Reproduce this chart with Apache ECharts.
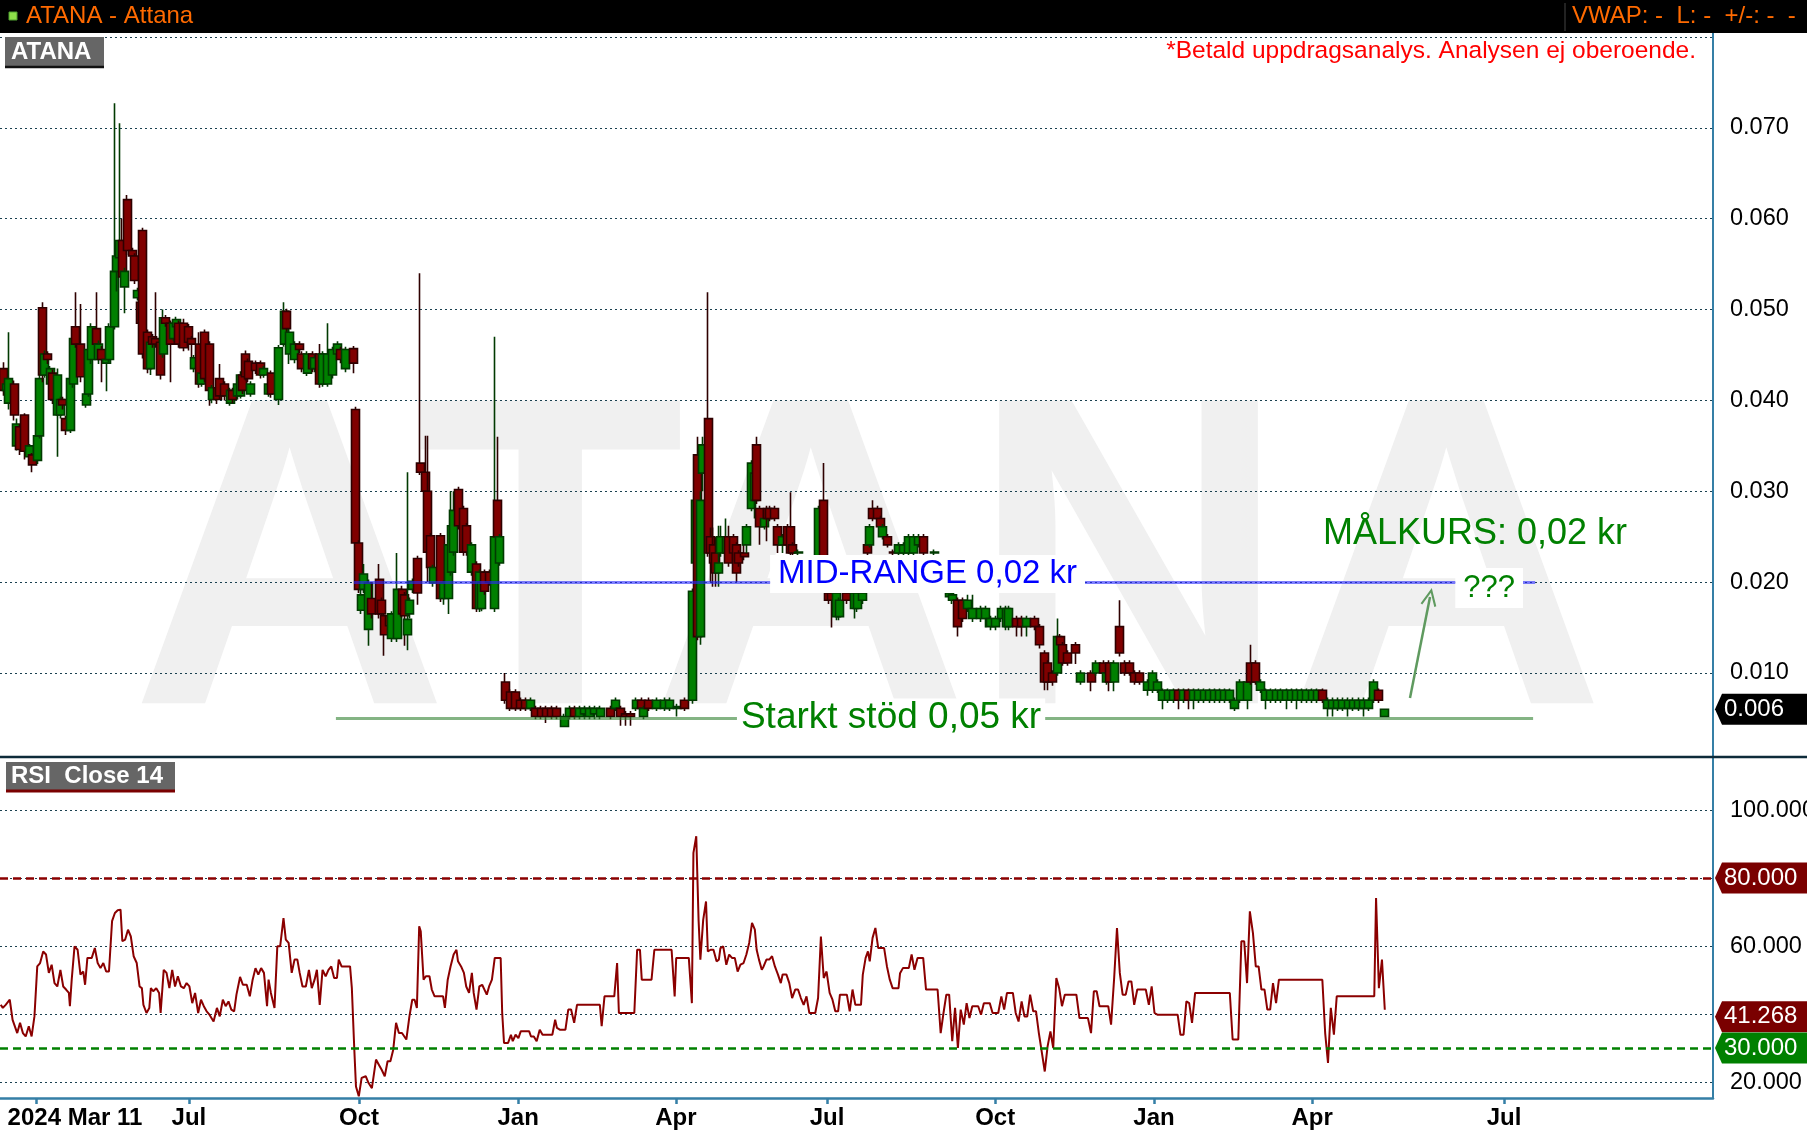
<!DOCTYPE html>
<html><head><meta charset="utf-8">
<script src="https://cdn.jsdelivr.net/npm/echarts@6/dist/echarts.min.js"></script>
<style>html,body{margin:0;padding:0;background:#fff;}#c{width:1807px;height:1137px;}</style>
</head><body><div id="c"></div>
<script>
const FONT = '"Liberation Sans", Arial, Helvetica, sans-serif';

// trading-day index, open, close, low, high
const candles = [
[0,.0435,.0411,.0405,.0442],[1,.0411,.0418,.0405,.0422],[2,.0397,.0424,.0390,.0475],[4,.0418,.0384,.0378,.0422],
[5,.0350,.0374,.0345,.0380],[6,.0371,.0346,.0340,.0374],[8,.0384,.0344,.0335,.0386],[10,.0338,.0350,.0332,.0352],
[11,.0340,.0329,.0321,.0342],[13,.0334,.0361,.0330,.0364],[14,.0361,.0424,.0358,.0430],[15,.0502,.0428,.0420,.0508],
[16,.0428,.0451,.0425,.0455],[17,.0451,.0445,.0440,.0454],[18,.0418,.0435,.0414,.0438],[19,.0430,.0401,.0396,.0434],
[21,.0384,.0428,.0338,.0435],[22,.0384,.0401,.0380,.0404],[23,.0401,.0395,.0390,.0404],[24,.0380,.0367,.0362,.0383],
[26,.0367,.0424,.0364,.0428],[27,.0418,.0468,.0414,.0472],[28,.0481,.0462,.0458,.0519],[30,.0462,.0426,.0420,.0506],
[32,.0395,.0407,.0392,.0410],[33,.0407,.0456,.0404,.0475],[34,.0445,.0481,.0440,.0485],[36,.0479,.0462,.0458,.0519],
[37,.0445,.0462,.0440,.0466],[38,.0456,.0445,.0420,.0460],[40,.0441,.0445,.0410,.0448],[41,.0445,.0481,.0442,.0485],
[43,.0481,.0542,.0478,.0727],[44,.0542,.0559,.0520,.0565],[45,.0557,.0576,.0555,.0705],[46,.0576,.0536,.0532,.0600],
[47,.0525,.0542,.0496,.0546],[48,.0621,.0565,.0560,.0626],[50,.0565,.0559,.0555,.0568],[51,.0559,.0532,.0528,.0562],
[52,.0513,.0521,.0510,.0524],[53,.0508,.0485,.0480,.0511],[54,.0587,.0451,.0446,.0590],[56,.0475,.0435,.0430,.0478],
[57,.0435,.0464,.0428,.0467],[58,.0470,.0462,.0458,.0473],[59,.0468,.0462,.0458,.0519],[61,.0464,.0428,.0423,.0467],
[62,.0451,.0491,.0447,.0500],[63,.0491,.0485,.0481,.0494],[65,.0485,.0462,.0420,.0488],[66,.0468,.0485,.0465,.0488],
[67,.0481,.0489,.0478,.0492],[68,.0485,.0462,.0458,.0488],[70,.0485,.0458,.0454,.0490],[72,.0481,.0464,.0455,.0484],
[73,.0468,.0462,.0445,.0471],[74,.0435,.0447,.0431,.0450],[76,.0462,.0418,.0414,.0475],[77,.0418,.0430,.0415,.0433],
[78,.0475,.0424,.0420,.0478],[80,.0462,.0411,.0394,.0465],[81,.0401,.0414,.0397,.0417],[83,.0414,.0401,.0396,.0417],
[84,.0424,.0405,.0401,.0440],[86,.0418,.0405,.0400,.0421],[88,.0397,.0411,.0394,.0414],[89,.0411,.0401,.0397,.0414],
[91,.0405,.0418,.0401,.0421],[92,.0405,.0428,.0402,.0432],[93,.0428,.0411,.0407,.0431],[94,.0451,.0426,.0422,.0455],
[95,.0443,.0424,.0420,.0446],[96,.0407,.0418,.0404,.0421],[98,.0441,.0433,.0429,.0444],[100,.0441,.0428,.0424,.0444],
[101,.0428,.0435,.0425,.0438],[103,.0407,.0418,.0404,.0421],[104,.0430,.0407,.0403,.0433],[107,.0401,.0458,.0395,.0461],
[109,.0462,.0498,.0459,.0508],[110,.0498,.0479,.0475,.0501],[111,.0451,.0475,.0440,.0478],[113,.0445,.0462,.0441,.0465],
[115,.0462,.0456,.0452,.0465],[116,.0451,.0435,.0431,.0454],[118,.0430,.0451,.0427,.0454],[120,.0451,.0435,.0431,.0454],
[121,.0435,.0447,.0431,.0450],[123,.0451,.0418,.0414,.0462],[124,.0418,.0451,.0415,.0454],[126,.0418,.0451,.0415,.0485],
[128,.0428,.0456,.0424,.0459],[130,.0451,.0462,.0448,.0465],[131,.0456,.0445,.0441,.0459],[133,.0435,.0456,.0431,.0459],
[136,.0457,.0441,.0430,.0460],
[137,.0390,.0243,.0240,.0393],[138,.0243,.0192,.0188,.0246],[139,.0169,.0186,.0165,.0200],[140,.0192,.0209,.0188,.0220],
[142,.0148,.0199,.0130,.0203],[143,.0182,.0165,.0160,.0200],[146,.0203,.0165,.0160,.0220],[147,.0180,.0165,.0160,.0183],
[148,.0163,.0142,.0119,.0166],[150,.0163,.0152,.0148,.0166],[151,.0138,.0165,.0134,.0168],[153,.0138,.0192,.0134,.0232],
[155,.0192,.0165,.0161,.0196],[156,.0186,.0163,.0130,.0189],[157,.0142,.0159,.0125,.0321],[158,.0165,.0180,.0160,.0183],
[159,.0192,.0201,.0188,.0204],[161,.0226,.0188,.0175,.0229],[162,.0331,.0321,.0318,.0540],[164,.0321,.0300,.0296,.0361],
[165,.0300,.0233,.0200,.0361],[166,.0251,.0216,.0212,.0254],[167,.0199,.0216,.0195,.0219],[170,.0251,.0182,.0178,.0254],
[171,.0182,.0199,.0175,.0202],[173,.0182,.0241,.0165,.0244],[174,.0211,.0262,.0207,.0300],[175,.0233,.0279,.0229,.0300],
[177,.0302,.0262,.0258,.0305],[179,.0281,.0233,.0229,.0284],[180,.0262,.0233,.0229,.0265],[182,.0211,.0241,.0207,.0244],
[184,.0220,.0171,.0167,.0223],[185,.0171,.0211,.0167,.0214],[186,.0171,.0200,.0168,.0203],[187,.0211,.0190,.0186,.0214],
[189,.0211,.0200,.0196,.0214],[191,.0171,.0250,.0167,.0470],[192,.0290,.0250,.0246,.0360],[193,.0221,.0250,.0218,.0253],
[195,.0090,.0070,.0066,.0100],[197,.0079,.0061,.0058,.0082],[199,.0079,.0061,.0058,.0082],[201,.0070,.0061,.0058,.0073],
[203,.0070,.0061,.0058,.0073],[205,.0061,.0070,.0058,.0073],[207,.0061,.0052,.0049,.0064],[209,.0061,.0052,.0049,.0064],
[211,.0061,.0052,.0045,.0064],[213,.0061,.0052,.0049,.0064],[215,.0061,.0052,.0049,.0064],[218,.0041,.0052,.0041,.0055],
[220,.0052,.0061,.0049,.0064],[222,.0061,.0052,.0049,.0064],[224,.0052,.0061,.0049,.0064],[226,.0055,.0061,.0049,.0064],
[228,.0052,.0061,.0049,.0064],[230,.0055,.0061,.0049,.0064],[232,.0052,.0061,.0049,.0064],[236,.0061,.0052,.0049,.0064],
[238,.0061,.0070,.0058,.0073],[240,.0061,.0052,.0042,.0064],[242,.0055,.0052,.0042,.0058],[244,.0055,.0052,.0042,.0058],
[246,.0061,.0070,.0058,.0073],[248,.0070,.0061,.0058,.0073],[249,.0052,.0061,.0049,.0064],[251,.0070,.0061,.0058,.0073],
[254,.0061,.0070,.0058,.0073],[257,.0061,.0070,.0058,.0073],[259,.0061,.0070,.0058,.0073],[262,.0061,.0063,.0052,.0066],
[265,.0070,.0061,.0058,.0073],
[268,.0070,.0190,.0066,.0193],[269,.0221,.0290,.0200,.0300],[270,.0340,.0140,.0136,.0360],[271,.0140,.0290,.0131,.0300],
[272,.0320,.0351,.0300,.0360],[274,.0380,.0232,.0228,.0519],[275,.0250,.0232,.0200,.0260],[276,.0241,.0221,.0195,.0260],
[277,.0232,.0210,.0195,.0250],[278,.0210,.0221,.0195,.0262],[279,.0232,.0250,.0228,.0262],[281,.0232,.0250,.0228,.0270],
[282,.0250,.0221,.0217,.0262],[284,.0250,.0232,.0228,.0253],[285,.0241,.0210,.0200,.0244],[286,.0232,.0221,.0217,.0235],
[288,.0232,.0228,.0224,.0241],[289,.0241,.0261,.0232,.0264],[291,.0281,.0331,.0278,.0334],[292,.0290,.0320,.0270,.0323],
[293,.0351,.0290,.0286,.0360],[294,.0281,.0261,.0241,.0284],[296,.0261,.0270,.0258,.0273],[297,.0281,.0270,.0245,.0284],
[298,.0281,.0270,.0267,.0284],[300,.0281,.0270,.0267,.0284],[301,.0261,.0241,.0232,.0264],[303,.0241,.0250,.0232,.0253],
[305,.0261,.0241,.0238,.0264],[306,.0261,.0232,.0229,.0299],[307,.0241,.0232,.0229,.0244],[309,.0232,.0233,.0229,.0236],
[311,.0225,.0205,.0200,.0228],[313,.0200,.0220,.0196,.0223],[315,.0215,.0200,.0196,.0218],[317,.0200,.0281,.0196,.0284],
[319,.0290,.0200,.0196,.0331],[321,.0188,.0180,.0176,.0191],[322,.0188,.0180,.0150,.0191],[324,.0162,.0188,.0158,.0191],
[325,.0162,.0180,.0158,.0183],[328,.0188,.0180,.0176,.0191],[331,.0171,.0188,.0160,.0191],[332,.0171,.0188,.0167,.0191],
[334,.0180,.0188,.0176,.0191],[336,.0241,.0232,.0228,.0244],[337,.0241,.0261,.0238,.0264],[338,.0281,.0270,.0267,.0290],
[340,.0281,.0270,.0267,.0284],[341,.0270,.0261,.0258,.0273],[342,.0250,.0261,.0247,.0264],[344,.0250,.0241,.0238,.0253],
[346,.0233,.0232,.0229,.0236],[348,.0232,.0241,.0229,.0244],[350,.0232,.0241,.0229,.0244],[352,.0232,.0250,.0229,.0253],
[354,.0232,.0250,.0229,.0253],[356,.0241,.0250,.0238,.0253],[358,.0250,.0232,.0229,.0253],[362,.0232,.0233,.0229,.0236],
[368,.0184,.0188,.0180,.0191],[369,.0180,.0186,.0176,.0189],[371,.0180,.0151,.0140,.0183],[373,.0180,.0160,.0156,.0183],
[375,.0171,.0180,.0167,.0186],[377,.0160,.0171,.0156,.0186],[380,.0160,.0171,.0156,.0174],[382,.0160,.0171,.0150,.0174],
[384,.0151,.0160,.0147,.0163],[386,.0151,.0160,.0147,.0163],[388,.0160,.0171,.0156,.0174],[390,.0151,.0171,.0147,.0174],
[391,.0151,.0171,.0147,.0174],[394,.0160,.0151,.0140,.0163],[396,.0160,.0151,.0140,.0163],[398,.0151,.0160,.0140,.0163],
[401,.0160,.0151,.0147,.0163],[403,.0151,.0131,.0127,.0154],[405,.0122,.0090,.0081,.0125],[406,.0111,.0090,.0081,.0114],
[408,.0100,.0090,.0086,.0103],[410,.0100,.0140,.0097,.0160],[411,.0140,.0131,.0127,.0143],[412,.0131,.0111,.0108,.0134],
[414,.0122,.0111,.0108,.0125],[417,.0131,.0122,.0110,.0134],[419,.0090,.0100,.0087,.0103],[423,.0100,.0090,.0080,.0103],
[425,.0100,.0111,.0097,.0114],[428,.0111,.0100,.0097,.0114],[429,.0090,.0100,.0087,.0103],[430,.0111,.0090,.0080,.0114],
[432,.0090,.0111,.0080,.0114],[434,.0151,.0122,.0118,.0180],[436,.0111,.0100,.0097,.0114],[438,.0111,.0100,.0097,.0114],
[440,.0100,.0090,.0087,.0103],[442,.0100,.0090,.0087,.0103],[445,.0081,.0090,.0075,.0093],[447,.0081,.0100,.0078,.0103],
[449,.0081,.0090,.0078,.0093],[451,.0070,.0081,.0060,.0083],[453,.0070,.0081,.0067,.0083],[455,.0070,.0081,.0067,.0083],
[457,.0081,.0070,.0060,.0083],[459,.0070,.0081,.0067,.0083],[461,.0081,.0070,.0060,.0083],[463,.0070,.0081,.0060,.0083],
[465,.0070,.0081,.0067,.0083],[467,.0070,.0081,.0067,.0083],[469,.0070,.0081,.0067,.0083],[471,.0070,.0081,.0067,.0083],
[473,.0070,.0081,.0067,.0083],[475,.0070,.0081,.0067,.0083],[477,.0070,.0081,.0067,.0083],[479,.0061,.0070,.0058,.0073],
[481,.0070,.0090,.0067,.0093],[484,.0070,.0090,.0060,.0093],[485,.0111,.0090,.0087,.0131],[487,.0111,.0090,.0087,.0114],
[489,.0081,.0090,.0078,.0093],[491,.0070,.0081,.0060,.0083],[493,.0070,.0081,.0067,.0083],[495,.0070,.0081,.0067,.0083],
[497,.0070,.0081,.0067,.0083],[499,.0070,.0081,.0060,.0083],[501,.0070,.0081,.0067,.0083],[503,.0070,.0081,.0060,.0083],
[505,.0070,.0081,.0067,.0083],[507,.0070,.0081,.0067,.0083],[509,.0070,.0081,.0067,.0083],[511,.0070,.0081,.0067,.0083],
[513,.0081,.0070,.0067,.0083],[515,.0061,.0070,.0052,.0073],[517,.0061,.0070,.0052,.0073],[519,.0061,.0070,.0058,.0073],
[521,.0061,.0070,.0058,.0073],[523,.0061,.0070,.0052,.0073],[525,.0061,.0070,.0058,.0073],[527,.0061,.0070,.0058,.0073],
[529,.0061,.0070,.0052,.0073],[531,.0061,.0070,.0058,.0073],[533,.0070,.0090,.0067,.0093],[535,.0081,.0070,.0067,.0083],
[537,.0052,.0060,.0052,.0060]
];

// [trading-day index, RSI(14)]
const rsi = [
[-1.2,42.7],[-0.4,41.8],[0.7,42.7],[2.3,44.2],[3.4,38.3],[5.2,34.4],[6.3,37.4],[7.4,34.4],[8.5,33.4],[9.7,36.4],[10.8,33.4],[11.9,39.3],
[13.0,54.0],[14.1,55.0],[15.3,58.4],[16.4,57.5],[17.5,52.1],[18.6,54.5],[19.7,49.1],[20.8,48.1],[22.0,53.0],[23.1,48.1],[24.2,47.2],[25.3,46.2],
[25.7,42.3],[26.4,50.1],[27.5,59.9],[28.7,58.9],[29.8,51.6],[30.9,52.5],[31.6,48.6],[32.5,56.5],[34.2,56.5],[35.4,59.4],[36.5,55.0],[37.6,53.5],
[38.7,55.0],[39.8,52.5],[40.9,52.5],[42.1,67.3],[43.2,69.7],[44.3,70.5],[45.4,70.7],[46.1,61.4],[47.2,61.9],[48.3,64.8],[49.4,62.8],[50.5,57.0],
[51.7,55.0],[52.8,48.1],[53.7,47.6],[54.3,42.7],[55.5,40.3],[56.6,41.8],[57.2,47.6],[58.1,46.7],[59.3,47.6],[60.4,46.2],[61.0,40.3],[62.2,53.0],
[63.3,52.1],[64.4,47.6],[65.5,53.0],[66.6,48.1],[67.7,51.1],[68.9,48.1],[70.0,47.6],[71.1,49.1],[72.2,48.1],[73.3,43.2],[74.4,46.2],[75.6,40.3],
[76.7,44.2],[77.8,42.3],[78.9,40.8],[80.0,39.8],[81.6,37.8],[82.9,41.8],[84.0,39.3],[85.2,44.2],[86.3,42.3],[87.4,43.7],[88.5,41.3],[89.6,40.8],
[90.5,45.7],[91.9,50.9],[93.0,48.6],[94.5,48.6],[95.7,45.2],[96.8,50.1],[97.9,53.5],[99.0,51.6],[100.1,53.5],[101.2,52.1],[102.4,42.3],[103.0,50.1],
[103.9,46.2],[105.3,41.8],[106.4,59.9],[107.5,59.9],[108.8,68.2],[109.7,61.9],[110.8,60.9],[112.0,52.1],[113.1,56.0],[114.2,56.0],[115.1,52.1],[116.2,48.1],
[117.5,48.1],[118.7,53.0],[119.8,47.6],[120.9,50.1],[121.8,53.0],[122.9,42.7],[124.0,53.0],[125.2,51.1],[126.3,53.0],[127.4,54.0],[128.5,50.6],[129.6,50.6],
[130.3,56.0],[131.4,54.0],[133.6,54.0],[134.7,54.0],[135.4,47.6],[136.3,30.5],[137.0,18.7],[138.1,15.8],[139.2,21.2],[140.8,21.7],[141.9,19.7],[143.2,18.2],
[144.8,26.6],[145.9,25.1],[147.0,23.6],[148.2,21.7],[149.3,26.1],[150.4,26.1],[151.5,29.5],[152.6,37.4],[153.7,34.4],[154.9,34.4],[156.6,32.5],[157.8,39.3],
[158.9,44.2],[159.8,44.2],[160.7,41.8],[161.6,65.8],[162.2,64.3],[163.3,50.1],[164.2,51.1],[165.6,51.1],[166.5,47.2],[167.6,45.2],[169.4,45.2],[170.9,45.2],
[171.6,41.8],[172.7,50.1],[173.8,54.0],[175.0,57.5],[176.1,58.9],[176.7,55.5],[177.9,54.0],[179.0,52.1],[179.9,48.1],[181.0,46.2],[182.1,52.1],[182.8,46.2],
[183.9,41.3],[185.0,48.1],[186.1,48.6],[187.9,45.7],[188.8,48.1],[189.9,50.1],[191.0,56.5],[192.2,56.5],[193.3,56.5],[193.9,40.3],[194.6,31.5],[196.2,31.5],
[197.3,33.9],[198.0,32.0],[199.1,33.9],[200.2,32.9],[201.1,34.9],[202.2,34.9],[203.5,34.9],[204.4,34.9],[205.1,33.4],[206.2,33.4],[207.3,32.0],[208.5,35.4],
[209.6,33.9],[210.7,33.9],[211.8,33.9],[213.4,33.9],[214.5,38.3],[215.2,35.9],[216.3,35.4],[217.4,35.4],[218.5,35.4],[219.6,41.3],[220.7,41.3],[221.9,37.4],
[223.0,42.7],[224.1,42.7],[225.2,42.7],[226.3,42.7],[228.6,42.7],[231.9,42.7],[232.6,36.4],[233.7,45.2],[235.3,45.2],[237.5,45.2],[238.6,55.0],[239.3,40.3],
[240.9,40.3],[243.1,40.3],[245.3,40.3],[246.4,58.9],[247.5,58.9],[248.2,50.1],[249.8,50.1],[252.0,50.1],[253.1,58.9],[255.4,58.9],[257.6,58.9],[259.8,58.9],
[261.0,45.2],[261.6,56.5],[263.2,56.5],[265.4,56.5],[266.5,56.5],[267.7,43.2],[268.3,87.4],[269.4,92.3],[270.3,67.7],[271.0,56.0],[272.1,67.7],[273.2,73.1],
[273.9,58.4],[275.0,58.9],[276.1,58.9],[277.3,55.5],[278.2,56.0],[278.8,59.4],[279.9,59.9],[281.1,54.5],[282.2,57.5],[283.3,56.5],[284.4,56.5],[285.5,52.5],
[286.6,54.5],[287.8,55.0],[288.9,57.5],[290.0,60.9],[291.1,66.8],[292.2,64.8],[292.9,58.9],[293.8,56.0],[294.9,53.0],[295.6,54.0],[296.7,56.0],[297.8,56.0],
[298.9,57.0],[300.0,54.0],[301.2,51.6],[302.3,49.1],[303.0,51.6],[304.5,51.6],[305.6,49.1],[306.7,44.7],[307.9,47.2],[309.0,47.2],[310.1,44.7],[311.2,42.7],
[312.3,45.2],[313.4,40.3],[314.6,40.3],[315.7,40.3],[316.8,44.7],[317.9,62.8],[319.0,50.6],[320.1,52.5],[321.3,46.2],[322.4,44.2],[323.5,40.8],[324.6,40.8],
[325.3,45.7],[326.8,45.7],[328.0,45.7],[329.1,40.8],[330.2,47.2],[331.3,42.7],[332.4,42.7],[333.5,42.7],[334.2,51.6],[335.3,56.5],[336.2,58.4],[336.9,55.5],
[338.0,62.4],[339.1,65.3],[340.2,59.4],[342.5,59.4],[343.6,54.0],[344.7,50.1],[345.8,47.6],[346.9,47.6],[348.1,47.6],[348.7,52.0],
[349.8,53.5],[352.1,53.5],[353.2,57.5],[354.3,53.0],[355.5,56.5],[357.7,56.5],[358.8,47.2],[361.1,47.2],[363.3,47.2],[364.5,34.4],[365.6,40.3],[366.7,45.7],
[367.8,45.7],[369.0,32.0],[370.1,41.8],[371.2,30.0],[372.3,41.3],[373.5,36.9],[374.6,43.2],[375.7,38.8],[376.8,42.3],[379.1,42.3],[380.2,39.8],[381.3,43.2],
[383.6,43.2],[384.7,40.3],[386.9,40.3],[388.1,45.2],[389.2,41.3],[390.3,46.2],[392.6,46.2],[393.7,40.3],[394.8,37.8],[396.0,43.7],[397.1,39.3],[398.2,39.3],
[399.3,45.7],[400.5,40.8],[401.6,40.8],[402.7,34.4],[403.8,29.0],[405.0,23.1],[406.1,30.5],[407.2,34.9],[408.3,30.0],[409.5,50.6],[410.6,47.6],[411.7,42.3],
[412.8,45.7],[415.1,45.7],[417.3,45.7],[418.5,38.8],[420.7,38.8],[421.8,38.8],[423.0,34.4],[424.1,46.7],[425.2,46.7],[426.3,42.3],[427.5,42.3],[429.7,42.3],
[430.8,36.9],[432.0,50.6],[433.1,65.3],[434.2,52.1],[435.3,45.7],[436.5,45.7],[437.6,49.6],[438.7,49.6],[439.8,42.7],[441.0,47.2],[443.2,47.2],[444.3,47.2],
[445.5,42.7],[446.6,48.1],[447.7,40.3],[448.8,39.8],[450.0,39.8],[452.2,39.8],[454.5,39.8],[456.7,39.8],[457.8,33.9],[459.0,33.9],[460.1,43.7],[461.2,43.2],
[462.3,37.4],[463.5,46.2],[465.7,46.2],[470.2,46.2],[477.0,46.2],[478.1,32.5],[479.2,32.5],[480.3,32.5],[481.5,61.4],[482.6,61.4],[483.7,49.1],[484.8,70.2],
[486.0,63.8],[487.1,54.0],[488.2,54.0],[489.3,47.2],[490.5,47.2],[491.6,41.3],[492.7,41.3],[493.8,49.1],[495.0,43.2],[496.1,50.1],[506.2,50.1],[513.0,50.1],
[514.1,34.4],[515.2,25.6],[516.3,41.8],[517.5,33.9],[518.6,45.2],[526.5,45.2],[533.2,45.2],[533.9,74.1],[535.0,47.6],[536.2,56.0],[537.3,41.268]
];

const xTickDays = [12.5, 72, 138.2, 200.1, 261.5, 320.3, 385.7, 447.5, 509, 583.7];
const xTickLabels = ['2024 Mar 11','Jul','Oct','Jan','Apr','Jul','Oct','Jan','Apr','Jul'];
const priceTicks = [0.01,0.02,0.03,0.04,0.05,0.06,0.07,0.08];
const priceLabelVals = [0.01,0.02,0.03,0.04,0.05,0.06,0.07];
const rsiTicks = [20,40,60,80,100];
const rsiLabelVals = [20,60,100];
const rsiOverbought = 80, rsiOversold = 30;
const midRange = 0.02, support = 0.005;

const AXIS_BLUE = '#357fa6', GRID_C = '#1a4050';

const chart = echarts.init(document.getElementById('c'));

function xLabel(v) {
  let bi = 0, bd = 1e9;
  xTickDays.forEach((d, i) => { const dd = Math.abs(d - v); if (dd < bd) { bd = dd; bi = i; } });
  return bi === 0 ? '{first|' + xTickLabels[0] + '}' : xTickLabels[bi];
}

const option = {
  animation: false,
  backgroundColor: '#ffffff',
  grid: [
    {left: 0, right: 94, top: 37, height: 720, outerBoundsMode: 'none', containLabel: false},
    {left: 0, right: 94, top: 758, height: 340, outerBoundsMode: 'none', containLabel: false}
  ],
  xAxis: [
    {type: 'value', gridIndex: 0, min: -1.5, max: 665, show: false},
    {type: 'value', gridIndex: 1, min: -1.5, max: 665,
      axisLine: {show: true, onZero: false, lineStyle: {color: AXIS_BLUE, width: 2.5}},
      axisTick: {show: true, customValues: xTickDays, length: 6, lineStyle: {color: AXIS_BLUE, width: 2.5}},
      axisLabel: {customValues: xTickDays, formatter: xLabel, fontFamily: FONT, fontSize: 24, fontWeight: 'bold', color: '#000', margin: 8,
        rich: {first: {padding: [0, 0, 0, 78], fontFamily: FONT, fontSize: 24, fontWeight: 'bold', color: '#000'}}},
      splitLine: {show: false}}
  ],
  yAxis: [
    {type: 'value', gridIndex: 0, position: 'right', min: 0.00075, max: 0.08,
      axisLine: {show: true, onZero: false, lineStyle: {color: AXIS_BLUE, width: 2}},
      axisTick: {show: false, customValues: priceTicks},
      axisLabel: {customValues: priceLabelVals, formatter: v => v.toFixed(3), fontFamily: FONT, fontSize: 23.5, color: '#000', margin: 17},
      splitLine: {show: true, lineStyle: {color: GRID_C, type: [2, 3], width: 1}}},
    {type: 'value', gridIndex: 1, position: 'right', min: 15.3, max: 115.3,
      axisLine: {show: true, onZero: false, lineStyle: {color: AXIS_BLUE, width: 2}},
      axisTick: {show: false, customValues: rsiTicks},
      axisLabel: {customValues: rsiLabelVals, formatter: v => v.toFixed(3), fontFamily: FONT, fontSize: 23.5, color: '#000', margin: 17},
      splitLine: {show: true, lineStyle: {color: GRID_C, type: [2, 3], width: 1}}}
  ],
  series: [
    {type: 'candlestick', name: 'ATANA', xAxisIndex: 0, yAxisIndex: 0, data: candles,
      encode: {x: 0, y: [1, 2, 3, 4]}, barWidth: 8.5,
      itemStyle: {color: '#008000', color0: '#800000', borderColor: '#013a01', borderColor0: '#2e0000', borderWidth: 1.6},
      markLine: {silent: true, animation: false, symbol: ['none', 'none'], label: {show: false},
        data: [
          [{coord: [136.2, midRange], lineStyle: {color: 'rgba(40,40,255,0.6)', width: 3, type: 'solid'}}, {coord: [595.8, midRange]}],
          [{coord: [129.2, support], lineStyle: {color: 'rgba(50,130,50,0.6)', width: 3, type: 'solid'}}, {coord: [595, support]}],
          [{coord: [547.1, 0.00725], symbol: 'none', lineStyle: {color: '#5f9a5f', width: 2.5, type: 'solid'}},
           {coord: [554.9, 0.01837], symbol: 'path://M0,0 L6,12 L4.6,12.7 L0,3.4 L-4.6,12.7 L-6,12 Z', symbolSize: [16, 18]}]
        ]},
      markPoint: {silent: true, animation: false, symbol: 'circle', symbolSize: 0,
        label: {show: true, position: 'inside', fontFamily: FONT},
        data: [
          {coord: [359.4, midRange], label: {formatter: 'MID-RANGE 0,02 kr', color: '#0000ff', fontSize: 33, lineHeight: 36, backgroundColor: '#fff', padding: [1, 8], offset: [0, -8]}},
          {coord: [577.9, midRange], label: {formatter: '???', color: '#008000', fontSize: 31, lineHeight: 36, backgroundColor: '#fff', padding: [2, 8], offset: [0, 6]}},
          {coord: [345.2, support], label: {formatter: 'Starkt stöd 0,05 kr', color: '#008000', fontSize: 37, lineHeight: 38, backgroundColor: '#fff', padding: [0, 4], offset: [0, -1]}},
          {coord: [572.4, 0.0253], label: {formatter: 'MÅLKURS: 0,02 kr', color: '#008000', fontSize: 36}}
        ]}
    },
    {type: 'line', name: 'RSI', xAxisIndex: 1, yAxisIndex: 1, data: rsi, showSymbol: false, symbol: 'none',
      lineStyle: {color: '#8b0000', width: 2}, z: 3,
      markLine: {silent: true, animation: false, symbol: ['none', 'none'], label: {show: false},
        data: [
          {yAxis: rsiOverbought, lineStyle: {color: '#8b0000', type: [8, 5], width: 2.5}},
          {yAxis: rsiOversold, lineStyle: {color: '#008000', type: [8, 5], width: 2.5}}
        ]}
    }
  ]
};
chart.setOption(option);

const yP = v => chart.convertToPixel({yAxisIndex: 0}, v);
const yR = v => chart.convertToPixel({yAxisIndex: 1}, v);
const W = 1807;
function badge(yc, text, color) {
  const x0 = 1715, h = 31;
  return [
    {type: 'polygon', z: 100, shape: {points: [[x0, yc], [x0 + 7, yc - h / 2], [W, yc - h / 2], [W, yc + h / 2], [x0 + 7, yc + h / 2]]}, style: {fill: color}},
    {type: 'text', z: 101, x: 1724, y: yc, style: {text: text, fill: '#fff', fontFamily: FONT, fontSize: 24, verticalAlign: 'middle', align: 'left'}}
  ];
}
const lastClose = candles[candles.length - 1][2];
const lastRsi = rsi[rsi.length - 1][1];
const g = [
  {type: 'text', z: -10, x: 868, y: 582, style: {text: 'ATANA', fill: '#f0f0f0', fontFamily: FONT, fontWeight: 'bold', fontSize: 440, align: 'center', verticalAlign: 'middle'}},
  {type: 'rect', z: 100, shape: {x: 0, y: 0, width: W, height: 33}, style: {fill: '#000'}},
  {type: 'rect', z: 101, shape: {x: 9, y: 12, width: 8, height: 8}, style: {fill: '#8ee04a', stroke: '#4f9f2f', lineWidth: 1}},
  {type: 'text', z: 101, x: 26, y: 16, style: {text: 'ATANA - Attana', fill: '#ff6a00', fontFamily: FONT, fontSize: 24, verticalAlign: 'middle'}},
  {type: 'line', z: 101, shape: {x1: 1565, y1: 3, x2: 1565, y2: 31}, style: {stroke: '#444', lineWidth: 1}},
  {type: 'text', z: 101, x: 1572, y: 16, style: {text: 'VWAP: -  L: -  +/-: -  -', fill: '#ff6a00', fontFamily: FONT, fontSize: 24, verticalAlign: 'middle'}},
  {type: 'rect', z: 101, shape: {x: 5, y: 37, width: 99, height: 30}, style: {fill: '#666'}},
  {type: 'line', z: 102, shape: {x1: 5, y1: 67, x2: 104, y2: 67}, style: {stroke: '#111', lineWidth: 2.5}},
  {type: 'text', z: 102, x: 11, y: 52, style: {text: 'ATANA', fill: '#fff', fontFamily: FONT, fontWeight: 'bold', fontSize: 24, verticalAlign: 'middle'}},
  {type: 'text', z: 101, x: 1696, y: 51, style: {text: '*Betald uppdragsanalys. Analysen ej oberoende.', fill: '#ff0000', fontFamily: FONT, fontSize: 24.5, align: 'right', verticalAlign: 'middle'}},
  {type: 'line', z: 101, shape: {x1: 0, y1: 757, x2: W, y2: 757}, style: {stroke: '#0d2b3a', lineWidth: 2.5}},
  {type: 'line', z: 101, shape: {x1: 1713, y1: 33, x2: 1713, y2: 37}, style: {stroke: AXIS_BLUE, lineWidth: 2}},
  {type: 'rect', z: 101, shape: {x: 6, y: 762, width: 169, height: 28}, style: {fill: '#666'}},
  {type: 'line', z: 102, shape: {x1: 6, y1: 791, x2: 175, y2: 791}, style: {stroke: '#7a0000', lineWidth: 3}},
  {type: 'text', z: 102, x: 11, y: 776, style: {text: 'RSI  Close 14', fill: '#fff', fontFamily: FONT, fontWeight: 'bold', fontSize: 24, verticalAlign: 'middle'}}
]
.concat(badge(yP(lastClose), lastClose.toFixed(3), '#000'))
.concat(badge(yR(rsiOverbought), rsiOverbought.toFixed(3), '#7a0000'))
.concat(badge(yR(lastRsi) + 7, lastRsi.toFixed(3), '#7a0000'))
.concat(badge(yR(rsiOversold), rsiOversold.toFixed(3), '#008000'));
chart.setOption({graphic: g});
</script>
</body></html>
